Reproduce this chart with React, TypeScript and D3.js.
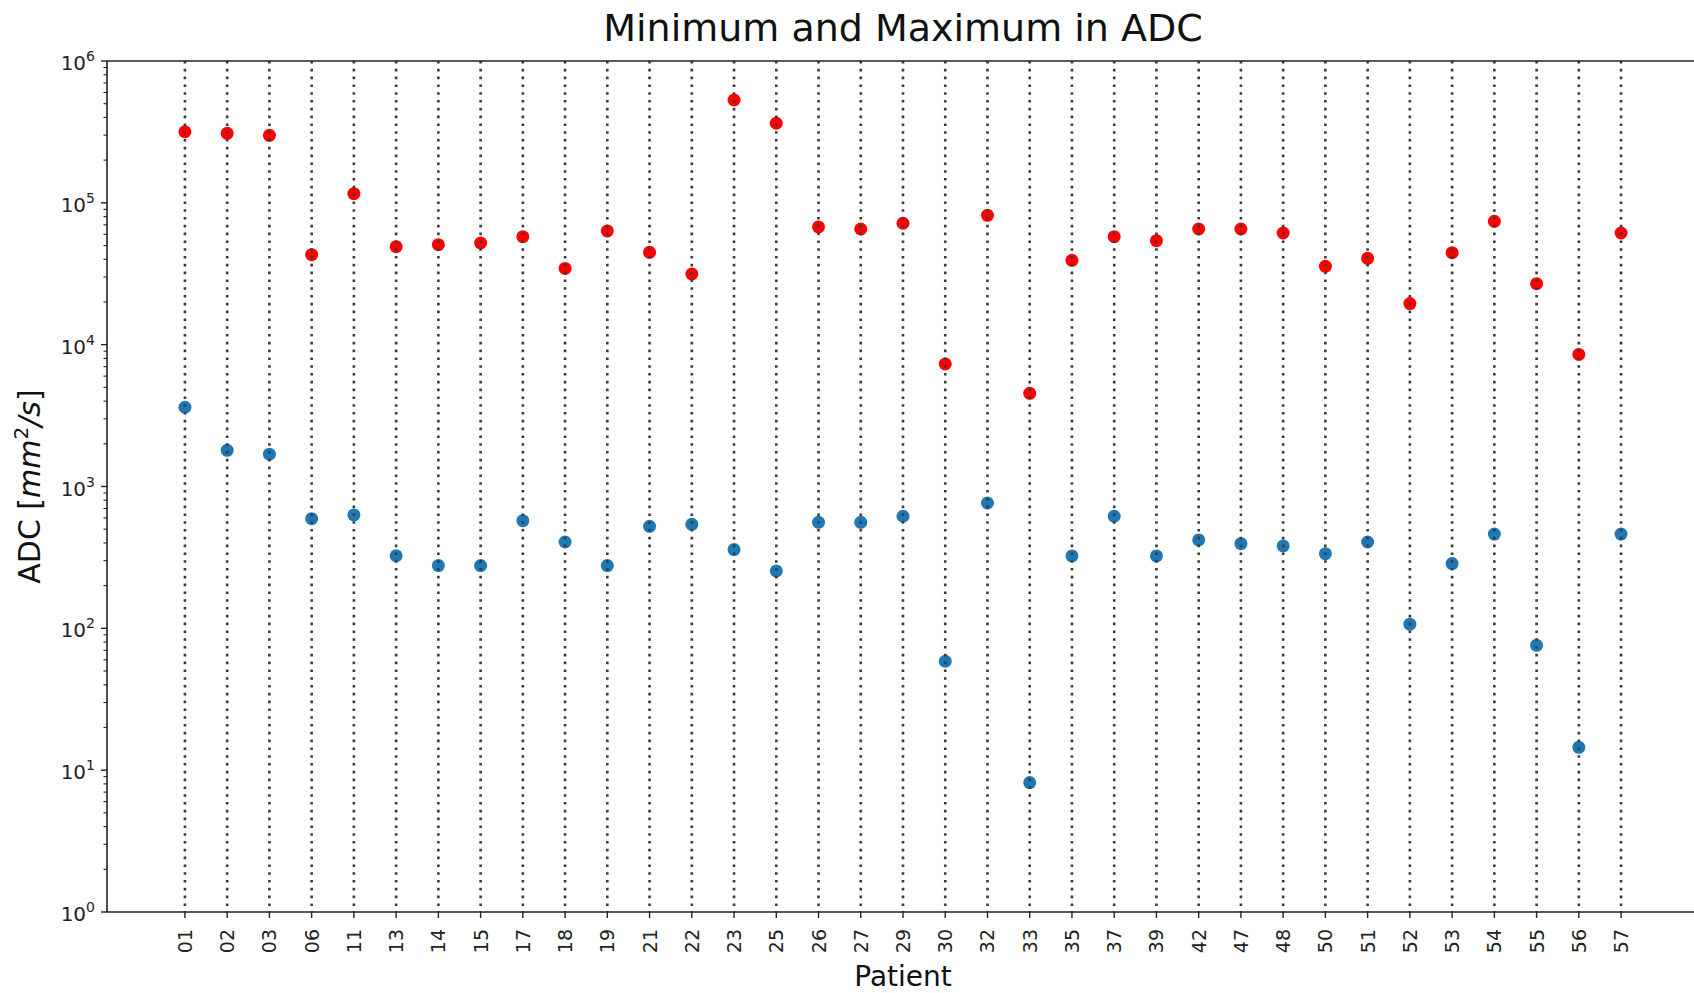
import React from "react";
import * as d3 from "d3";

const patients = ["01","02","03","06","11","13","14","15","17","18","19","21","22","23","25","26","27","29","30","32","33","35","37","39","42","47","48","50","51","52","53","54","55","56","57"];

const maxADC = [317000, 309000, 299000, 43100, 116000, 49100, 50700, 52100, 57700, 34500, 63400, 44800, 31500, 531000, 364000, 67600, 65400, 71800, 7310, 81700, 4540, 39300, 57700, 54100, 65400, 65400, 61300, 35700, 40600, 19500, 44500, 74100, 26900, 8540, 61300];

const minADC = [3620, 1800, 1690, 593, 630, 325, 277, 277, 574, 406, 277, 524, 541, 359, 254, 559, 559, 617, 58.6, 765, 8.17, 324, 617, 324, 420, 395, 381, 336, 406, 107, 286, 462, 75.9, 14.5, 462];

const yDecades = [0, 1, 2, 3, 4, 5, 6];

const W = 1694;
const H = 993;
const left = 107;
const right = 1699;
const top = 61;
const bottom = 912;
const FONT = "DejaVu Sans, sans-serif";

export default function App() {
  const x = d3.scalePoint<string>().domain(patients).range([left, right]).padding(1.845);
  const y = d3.scaleLog().domain([1, 1e6]).range([bottom, top]);

  const minor: number[] = [];
  for (let d = 0; d < 6; d++) {
    for (let k = 2; k <= 9; k++) minor.push(k * Math.pow(10, d));
  }

  return (
    <svg width={W} height={H} style={{ position: "absolute", left: 0, top: 0, background: "#fff" }} fontFamily={FONT}>
      <rect x={0} y={0} width={W} height={H} fill="#fff" />
      {/* markers */}
      {patients.map((p, i) => (
        <circle key={"mn" + p} cx={x(p)} cy={y(minADC[i])} r={6.5} fill="#1f77b4" />
      ))}
      {patients.map((p, i) => (
        <circle key={"mx" + p} cx={x(p)} cy={y(maxADC[i])} r={6.5} fill="#ff0000" />
      ))}
      {/* dotted vertical lines */}
      {patients.map((p) => (
        <line key={"v" + p} x1={x(p)} x2={x(p)} y1={y(1e6)} y2={y(1)} stroke="#3a3a3a" strokeWidth={2.6} strokeDasharray="2.6 5.2" />
      ))}
      {/* spines */}
      <line x1={left} x2={right} y1={top} y2={top} stroke="#222" strokeWidth={1.6} />
      <line x1={left} x2={right} y1={bottom} y2={bottom} stroke="#222" strokeWidth={1.6} />
      <line x1={left} x2={left} y1={top} y2={bottom} stroke="#222" strokeWidth={1.6} />
      <line x1={right} x2={right} y1={top} y2={bottom} stroke="#222" strokeWidth={1.6} />
      {/* y ticks */}
      {minor.map((v) => (
        <line key={"mt" + v} x1={left - 3.5} x2={left} y1={y(v)} y2={y(v)} stroke="#222" strokeWidth={1.1} />
      ))}
      {yDecades.map((d) => (
        <g key={"yt" + d}>
          <line x1={left - 6} x2={left} y1={y(Math.pow(10, d))} y2={y(Math.pow(10, d))} stroke="#222" strokeWidth={1.4} />
          <text x={95} y={y(Math.pow(10, d)) + 9} textAnchor="end" fontSize={20} fill="#222">
            10<tspan dy={-9} fontSize={14}>{d}</tspan>
          </text>
        </g>
      ))}
      {/* x ticks */}
      {patients.map((p) => (
        <g key={"xt" + p}>
          <line x1={x(p)} x2={x(p)} y1={bottom} y2={bottom + 6} stroke="#222" strokeWidth={1.4} />
          <text transform={`translate(${x(p)},${bottom + 17}) rotate(-90)`} textAnchor="end" dominantBaseline="central" fontSize={19} fill="#222">
            {p}
          </text>
        </g>
      ))}
      {/* title */}
      <text x={(left + right) / 2} y={41} textAnchor="middle" fontSize={38} fill="#111">
        Minimum and Maximum in ADC
      </text>
      {/* x label */}
      <text x={(left + right) / 2} y={986} textAnchor="middle" fontSize={28} fill="#111">
        Patient
      </text>
      {/* y label */}
      <text transform={`translate(40,${(top + bottom) / 2}) rotate(-90)`} textAnchor="middle" fontSize={30} fill="#111">
        ADC [<tspan fontStyle="italic">mm</tspan><tspan dy={-12} fontSize={20}>2</tspan><tspan dy={12} fontStyle="italic">/s</tspan>]
      </text>
    </svg>
  );
}
